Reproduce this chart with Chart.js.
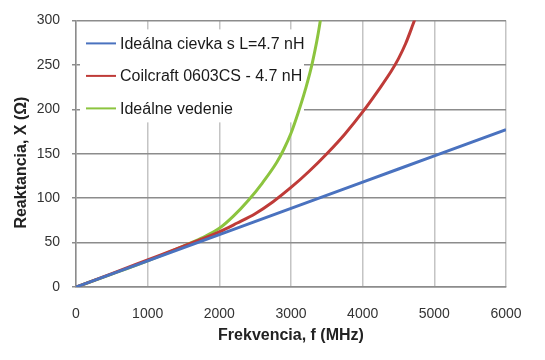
<!DOCTYPE html>
<html>
<head>
    <meta charset="utf-8">
    <script src="https://cdn.jsdelivr.net/npm/chart.js"></script>
    <style>
        body { margin: 0; background: #fff; }
        #wrap { width: 545px; height: 360px; }
    </style>
</head>
<body>
<div id="wrap"><canvas id="reaktancia" width="545" height="360"></canvas></div>
<script>

// frekvencia v MHz, reaktancia v ohmoch (odcitane z obrazku)
var seriesNames = ['Ideálna cievka s L=4.7 nH', 'Coilcraft 0603CS - 4.7 nH', 'Ideálne vedenie']

var idealCievkaF = [0, 1000, 2000, 3000, 4000, 5000, 6000]
var idealCievkaX = [0, 29.5, 59, 88.5, 118, 147.5, 177]

var coilcraftF = [0, 500, 1000, 1500, 2000, 2250, 2500, 2750, 3000, 3250, 3500, 3750, 4000, 4250, 4400, 4500, 4600, 4700, 4750]
var coilcraftX = [0, 15, 30.5, 46, 62, 72, 82.5, 96, 112, 130, 150, 172, 197, 225, 243, 257, 274, 295, 306]

var vedenieF = [0, 500, 1000, 1500, 1750, 2000, 2200, 2400, 2600, 2800, 2900, 3000, 3100, 3200, 3300, 3400, 3450]
var vedenieX = [0, 14.5, 29.5, 46, 55, 66, 80, 97, 117, 140, 155, 173, 196, 222, 253, 295, 325]

var xTicks = [0, 1000, 2000, 3000, 4000, 5000, 6000]
var yTicks = [0, 50, 100, 150, 200, 250, 300]

var fontFam = '"Liberation Sans", Arial, sans-serif'

function toPoints(fs, xs) {
    var pts = []
    for (var i = 0; i < fs.length; i++) {
        pts.push({x: fs[i], y: xs[i]})
    }
    return pts
}

// legenda vo vnutri grafu, ako v exceli
var insideLegend = {
    id: 'insideLegend',
    beforeDatasetsDraw: function(chart) {
        var ctx = chart.ctx
        var a = chart.chartArea
        ctx.save()
        ctx.fillStyle = '#ffffff'
        ctx.fillRect(a.left + 4, a.top + 9, 224, 93)
        ctx.font = '16px ' + fontFam
        ctx.textBaseline = 'middle'
        chart.data.datasets.forEach(function(ds, i) {
            var y = a.top + 23 + i * 32.5
            ctx.strokeStyle = ds.borderColor
            ctx.lineWidth = 2
            ctx.beginPath()
            ctx.moveTo(a.left + 10, y)
            ctx.lineTo(a.left + 40, y)
            ctx.stroke()
            ctx.fillStyle = '#1a1a1a'
            ctx.fillText(ds.label, a.left + 44, y + 1)
        })
        ctx.restore()
    }
}

var ctx = document.getElementById('reaktancia').getContext('2d')

var myChart = new Chart(ctx, {
    type: 'line',
    data: {
        datasets: [{
            label: seriesNames[0],
            data: toPoints(idealCievkaF, idealCievkaX),
            borderColor: '#4a72bf',
            borderWidth: 3
        }, {
            label: seriesNames[1],
            data: toPoints(coilcraftF, coilcraftX),
            borderColor: '#bf3b38',
            borderWidth: 3
        }, {
            label: seriesNames[2],
            data: toPoints(vedenieF, vedenieX),
            borderColor: '#8cc43f',
            borderWidth: 3
        }]
    },
    options: {
        responsive: false,
        animation: false,
        cubicInterpolationMode: 'monotone',
        elements: { point: { radius: 0 } },
        layout: { padding: { top: 20, right: 39, left: 0, bottom: 0 } },
        plugins: {
            legend: { display: false },
            tooltip: { enabled: false }
        },
        scales: {
            x: {
                type: 'linear',
                min: 0,
                max: 6000,
                afterBuildTicks: function(scale) {
                    scale.ticks = xTicks.map(function(v) { return {value: v} })
                },
                afterFit: function(scale) { scale.height = 73 },
                grid: { color: '#c4c4c4', lineWidth: 1.5, drawTicks: false },
                border: { color: '#8c8c8c', width: 1.5 },
                ticks: {
                    padding: 19,
                    color: '#333333',
                    font: { family: fontFam, size: 14 },
                    callback: function(v) { return String(v) }
                },
                title: {
                    display: true,
                    text: 'Frekvencia, f (MHz)',
                    color: '#222222',
                    padding: { top: 0, bottom: 15 },
                    font: { family: fontFam, size: 16, weight: 'bold' }
                }
            },
            y: {
                type: 'linear',
                min: 0,
                max: 300,
                afterBuildTicks: function(scale) {
                    scale.ticks = yTicks.map(function(v) { return {value: v} })
                },
                afterFit: function(scale) { scale.width = 76 },
                grid: { color: '#8c8c8c', lineWidth: 1.5, tickLength: 4 },
                border: { color: '#8c8c8c', width: 1.5 },
                ticks: {
                    padding: 12,
                    color: '#333333',
                    font: { family: fontFam, size: 14 },
                    callback: function(v) { return String(v) }
                },
                title: {
                    display: true,
                    // medzery na konci posuvaju text trochu nizsie
                    text: 'Reaktancia, X (Ω)    ',
                    color: '#222222',
                    padding: { top: 12, bottom: 0 },
                    font: { family: fontFam, size: 16, weight: 'bold' }
                }
            }
        }
    },
    plugins: [insideLegend]
})

</script>
</body>
</html>
